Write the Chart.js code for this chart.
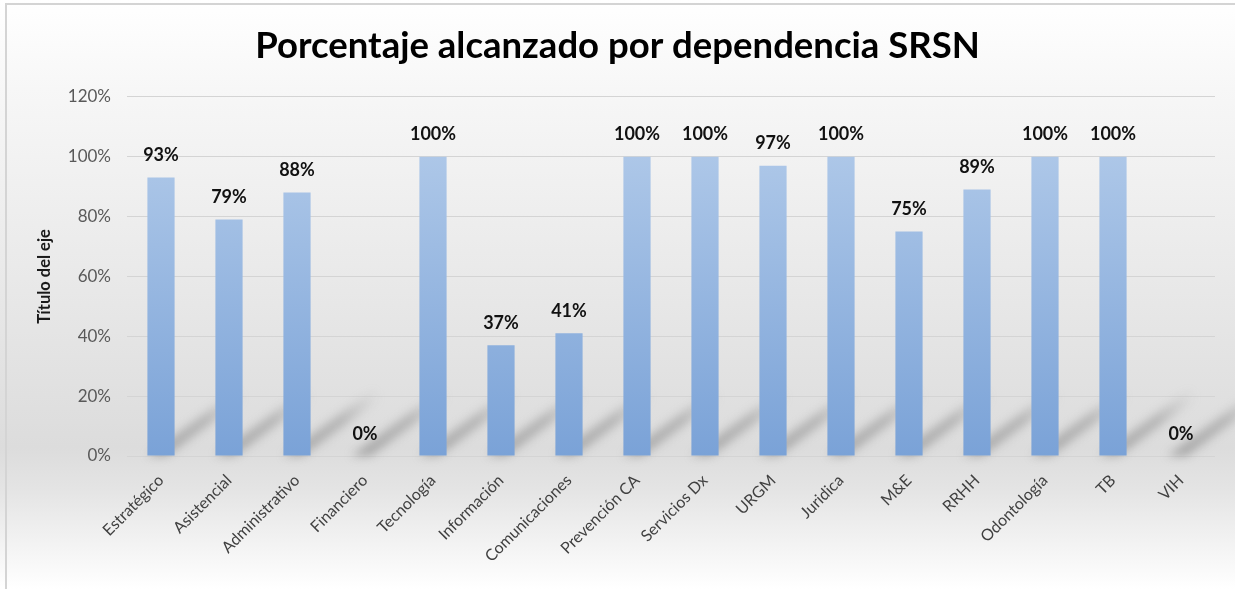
<!DOCTYPE html>
<html>
<head>
<meta charset="utf-8">
<script src="https://cdn.jsdelivr.net/npm/chart.js@4"></script>
<style>
  html, body { margin: 0; padding: 0; background: #fff; }
  #wrap { width: 1235px; height: 589px; }
</style>
</head>
<body>
<div id="wrap"><canvas id="chart" width="1235" height="589"></canvas></div>
<script>
const categories = ['Estratégico', 'Asistencial', 'Administrativo', 'Financiero', 'Tecnología', 'Información',
  'Comunicaciones', 'Prevención CA', 'Servicios Dx', 'URGM', 'Juridica', 'M&E', 'RRHH', 'Odontología', 'TB', 'VIH'];
const percentages = [93, 79, 88, 0, 100, 37, 41, 100, 100, 97, 100, 75, 89, 100, 100, 0];
const yTicks = [0, 20, 40, 60, 80, 100, 120];

const FONT = 'Lato, "Open Sans", sans-serif';
const ctx = document.getElementById('chart').getContext('2d');

// background of the chart panel (grey band round the plot, white top & bottom)
const bgPlugin = {
  id: 'bg',
  beforeDraw(chart) {
    const c = chart.ctx;
    const h = chart.height, w = chart.width;
    const g = c.createLinearGradient(0, 0, 0, h);
    g.addColorStop(0, '#ffffff');
    g.addColorStop(0.15, '#f7f7f7');
    g.addColorStop(0.45, '#eaeaea');
    g.addColorStop(0.76, '#dcdcdc');
    g.addColorStop(0.83, '#e4e4e4');
    g.addColorStop(1, '#ffffff');
    c.save();
    c.fillStyle = g;
    c.fillRect(0, 0, w, h);
    c.strokeStyle = '#d4d4d4';
    c.lineWidth = 2;
    c.strokeRect(6, 4, w + 20, h + 20);
    c.restore();
  }
};

// slanted soft shadow behind each bar
const shadowPlugin = {
  id: 'barShadow',
  beforeDatasetsDraw(chart) {
    const c = chart.ctx;
    const base = chart.scales.y.getPixelForValue(0);
    const dx = 92, dy = 68;
    c.save();
    c.filter = 'blur(5px)';
    chart.getDatasetMeta(0).data.forEach(bar => {
      const l = bar.x - bar.width / 2, r = bar.x + bar.width / 2 - 8;
      const g = c.createLinearGradient(l, base, l + dx, base - dy);
      g.addColorStop(0, 'rgba(120,120,120,0.55)');
      g.addColorStop(0.6, 'rgba(125,125,125,0.42)');
      g.addColorStop(1, 'rgba(150,150,150,0)');
      c.fillStyle = g;
      c.beginPath();
      c.moveTo(l, base);
      c.lineTo(r, base);
      c.lineTo(r + dx, base - dy);
      c.lineTo(l + dx, base - dy);
      c.closePath();
      c.fill();
    });
    c.restore();
  }
};

// value labels above the bars
const labelPlugin = {
  id: 'valueLabels',
  afterDatasetsDraw(chart) {
    const c = chart.ctx;
    c.save();
    c.font = 'bold 18px ' + FONT;
    c.fillStyle = '#111';
    c.textAlign = 'center';
    c.textBaseline = 'middle';
    chart.getDatasetMeta(0).data.forEach((bar, i) => {
      c.fillText(percentages[i] + '%', bar.x, bar.y - 22);
    });
    c.restore();
  }
};

function barGradient(context) {
  const area = context.chart.chartArea;
  if (!area) return '#8fb0dd';
  const y = context.chart.scales.y;
  const g = context.chart.ctx.createLinearGradient(0, y.getPixelForValue(100), 0, y.getPixelForValue(0));
  g.addColorStop(0, '#adc7e8');
  g.addColorStop(1, '#7aa2d7');
  return g;
}

new Chart(ctx, {
  type: 'bar',
  data: {
    labels: categories,
    datasets: [{
      label: 'Porcentaje',
      data: percentages,
      backgroundColor: barGradient,
      borderWidth: 0,
      categoryPercentage: 0.8,
      barPercentage: 0.5
    }]
  },
  options: {
    responsive: false,
    animation: false,
    layout: { padding: { left: 20, right: 20, top: 0, bottom: 0 } },
    plugins: {
      legend: { display: false },
      tooltip: { enabled: false },
      title: {
        display: true,
        text: 'Porcentaje alcanzado por dependencia SRSN',
        color: '#000',
        font: { family: FONT, size: 36.5, weight: 'bold' },
        padding: { top: 24, bottom: 29 }
      }
    },
    scales: {
      x: {
        grid: { display: false },
        border: { display: false },
        ticks: {
          color: '#404040',
          font: { family: FONT, size: 16 },
          minRotation: 45,
          maxRotation: 45,
          padding: 7
        },
        afterFit(scale) { scale.height = 133; }
      },
      y: {
        min: 0,
        max: 120,
        afterBuildTicks(scale) { scale.ticks = yTicks.map(v => ({ value: v })); },
        grid: { color: '#d4d4d4', lineWidth: 1, drawTicks: false },
        border: { display: false },
        ticks: {
          color: '#595959',
          font: { family: FONT, size: 17 },
          padding: 16,
          callback: v => v + '%'
        },
        title: {
          display: true,
          text: 'Título del eje',
          color: '#1a1a1a',
          font: { family: FONT, size: 16.5, weight: 'bold' },
          padding: { top: 15, bottom: 0 }
        },
        afterFit(scale) { scale.width = 107; }
      }
    }
  },
  plugins: [bgPlugin, shadowPlugin, labelPlugin]
});
</script>
</body>
</html>
